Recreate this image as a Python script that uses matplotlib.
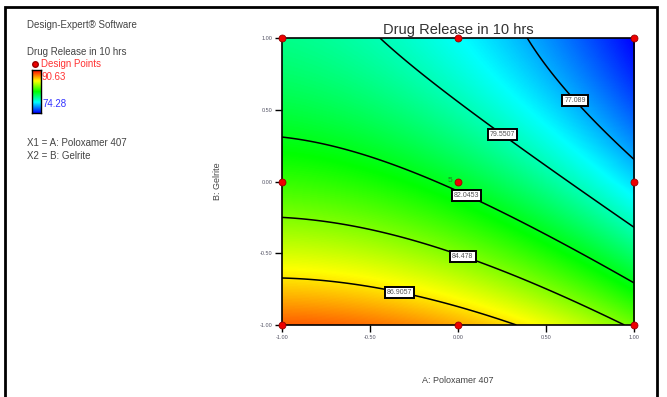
import numpy as np
import matplotlib
matplotlib.use("Agg")
import matplotlib.pyplot as plt
from matplotlib.colors import LinearSegmentedColormap
from matplotlib.patches import Rectangle

plt.rcParams['font.family'] = ['Liberation Sans', 'DejaVu Sans']

# Quadratic response model for Drug Release in 10 hrs (coded factors)
coef_b0 = 81.72
coef_A = -2.73
coef_B = -4.70
coef_AB = -0.27
coef_A2 = -1.17
coef_B2 = 1.43

resp_min = 74.28
resp_max = 90.63

contour_levels = [77.089, 79.5507, 82.0453, 84.478, 86.9057]
contour_labels = ["77.089", "79.5507", "82.0453", "84.478", "86.9057"]
label_spots = [(0.68, 0.58), (0.25, 0.32), (0.05, -0.09), (0.03, -0.51), (-0.33, -0.76)]

design_A = [-1, -1, -1, 0, 0, 0, 1, 1, 1]
design_B = [-1, 0, 1, -1, 0, 1, -1, 0, 1]
center_runs = 5

tick_vals = [-1.0, -0.5, 0.0, 0.5, 1.0]
tick_text = ["-1.00", "-0.50", "0.00", "0.50", "1.00"]


def response(a, b):
    return (coef_b0 + coef_A * a + coef_B * b + coef_AB * a * b
            + coef_A2 * a ** 2 + coef_B2 * b ** 2)


cmap = LinearSegmentedColormap.from_list(
    "de", ["#0000ff", "#00ffff", "#00ff00", "#ffff00", "#ff0000"])

fig = plt.figure(figsize=(6.67, 3.97), dpi=100)
W, H = 667, 397


def fx(px):
    return px / W


def fy(py):
    return 1 - py / H


ax = fig.add_axes([fx(282), fy(325), fx(634) - fx(282), fy(38) - fy(325)])

g = np.linspace(-1, 1, 300)
AA, BB = np.meshgrid(g, g)
Z = response(AA, BB)
ax.imshow(Z, extent=[-1, 1, -1, 1], origin="lower", cmap=cmap,
          vmin=resp_min, vmax=resp_max, aspect="auto", interpolation="bilinear")

cs = ax.contour(AA, BB, Z, levels=contour_levels, colors="black", linewidths=1.1)
fmt = dict(zip(cs.levels, contour_labels))
texts = ax.clabel(cs, cs.levels, manual=label_spots, fmt=fmt, fontsize=5,
                  inline=False, colors="#555555")
for t in texts:
    t.set_rotation(0)
    t.set_zorder(4)
    t.set_bbox(dict(boxstyle="square,pad=0.3", fc="white", ec="black", lw=1.4))

ax.plot(design_A, design_B, "o", ms=5, mfc="#ee0000", mec="#990000", mew=0.6,
        clip_on=False, zorder=5)
ax.text(-0.03, -0.02, str(center_runs), color="#1a8a1a", fontsize=6,
        ha="right", va="bottom", zorder=6)

ax.set_xlim(-1, 1)
ax.set_ylim(-1, 1)
ax.set_xticks(tick_vals)
ax.set_xticklabels(tick_text)
ax.set_yticks(tick_vals)
ax.set_yticklabels(tick_text)
ax.tick_params(axis="both", direction="out", length=5, width=1.0,
               labelsize=4, labelcolor="#555566", pad=2)
for s in ax.spines.values():
    s.set_linewidth(1.2)

ax.set_title("Drug Release in 10 hrs", fontsize=10.5, color="#333333", pad=3)
ax.set_xlabel("A: Poloxamer 407", fontsize=6.5, color="#444444", labelpad=26)
ax.set_ylabel("B: Gelrite", fontsize=6.5, color="#444444", labelpad=27)

# Side panel annotations
side = dict(fontsize=7, color="#444444", va="center")
fig.text(fx(27), fy(25), "Design-Expert® Software", **side)
fig.text(fx(27), fy(52), "Drug Release in 10 hrs", **side)
fig.lines.append(plt.Line2D([fx(35)], [fy(64)], marker="o", ms=4, mfc="#ee0000",
                            mec="#990000", transform=fig.transFigure))
fig.text(fx(41), fy(64), "Design Points", fontsize=7, color="#ff3333", va="center")

cax = fig.add_axes([fx(32), fy(113), fx(41) - fx(32), fy(70) - fy(113)])
grad = np.linspace(resp_min, resp_max, 200).reshape(-1, 1)
cax.imshow(grad, origin="lower", cmap=cmap, aspect="auto",
           vmin=resp_min, vmax=resp_max)
cax.set_xticks([])
cax.set_yticks([])
for s in cax.spines.values():
    s.set_linewidth(1.0)
fig.text(fx(42), fy(77), f"{resp_max:.2f}", fontsize=7, color="#ff3333", va="center")
fig.text(fx(42), fy(104), f"{resp_min:.2f}", fontsize=7, color="#3333ff", va="center")

fig.text(fx(27), fy(143), "X1 = A: Poloxamer 407", **side)
fig.text(fx(27), fy(156), "X2 = B: Gelrite", **side)

fig.patches.append(Rectangle((fx(5), fy(402)), fx(657) - fx(5), fy(7) - fy(402),
                             transform=fig.transFigure, fill=False, ec="black",
                             lw=2.0))

fig.savefig("out.png", dpi=100)
